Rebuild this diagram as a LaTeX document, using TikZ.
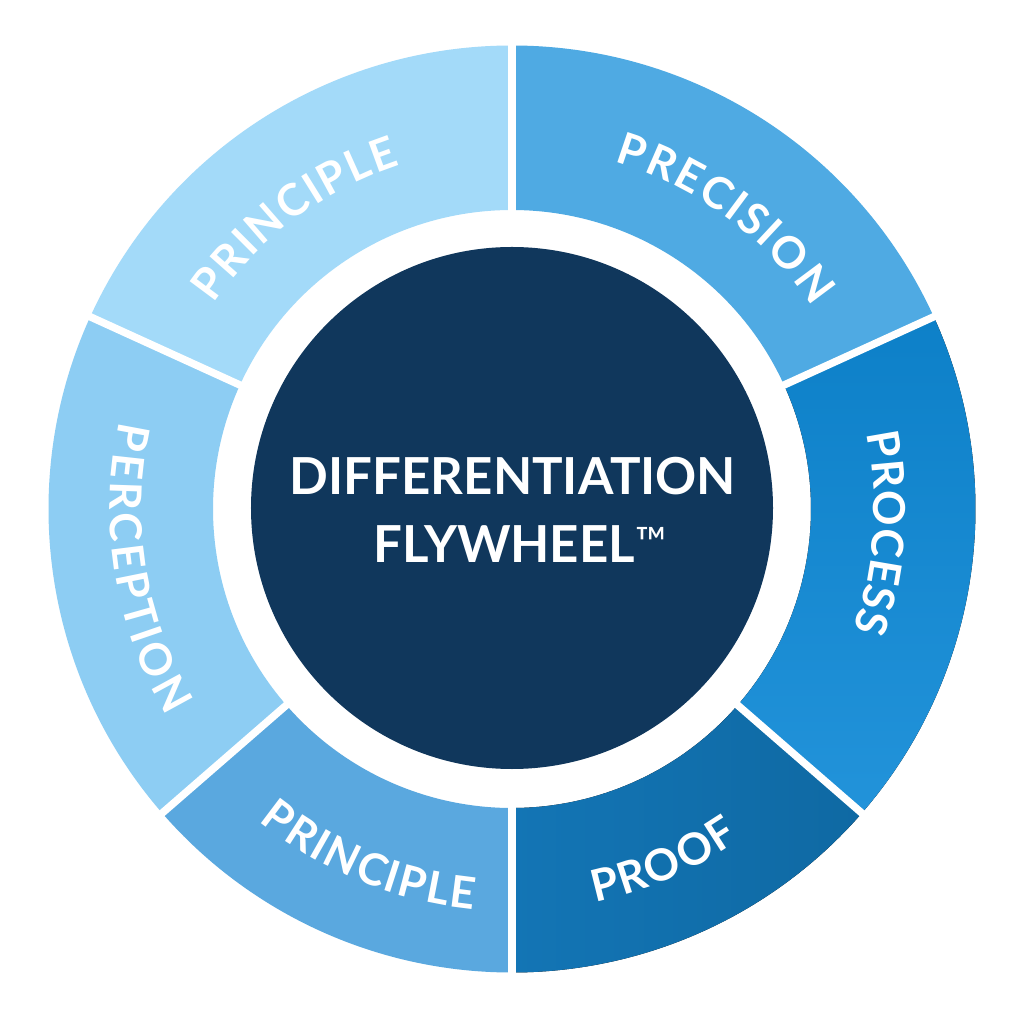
\documentclass[tikz,border=0pt]{standalone}
\usepackage{fontspec}
\setmainfont{Lato}
\usetikzlibrary{decorations.text,calc}
\definecolor{hub}{HTML}{10375C}
\definecolor{sA}{HTML}{A3DAF9}
\definecolor{sB}{HTML}{4FAAE3}
\definecolor{sCa}{HTML}{0D80C8}
\definecolor{sCb}{HTML}{2293DA}
\definecolor{sDa}{HTML}{0F69A3}
\definecolor{sDb}{HTML}{1375B5}
\definecolor{sE}{HTML}{5AA8DF}
\definecolor{sF}{HTML}{8DCDF3}
\newcommand{\seg}[3]{% start, end, fill options
  \fill[#3] (#1:463.5) arc[start angle=#1,end angle=#2,radius=463.5] -- (#2:299) arc[start angle=#2,end angle=#1,radius=299] -- cycle;}
\newcommand{\ringlabel}[4]{% start angle, end angle, radius, text
  \path[decorate,decoration={text effects along path,text={#4},
     text effects/.cd,text along path,fit text to path,
     characters={text=white,font=\fontsize{44}{44}\bfseries\selectfont}}]
     (#1:#3) arc[start angle=#1,end angle=#2,radius=#3];}
\begin{document}
\begin{tikzpicture}[x=1pt,y=1pt]
\useasboundingbox (-512,-515) rectangle (512,509);
\fill[white] (-512,-515) rectangle (512,509);
\seg{90}{155.5}{sA}
\seg{24.5}{90}{sB}
\seg{-41}{24.5}{top color=sCa,bottom color=sCb}
\seg{-90}{-41}{left color=sDb,right color=sDa}
\seg{-139}{-90}{sE}
\seg{155.5}{221}{sF}
\draw[white,line width=8pt] (90:290) -- (90:480);
\draw[white,line width=8pt] (-90:290) -- (-90:480);
\draw[white,line width=7.5pt] (24.5:290) -- (24.5:480);
\draw[white,line width=7.5pt] (-41:290) -- (-41:480);
\draw[white,line width=7.5pt] (221:290) -- (221:480);
\draw[white,line width=7.5pt] (155.5:290) -- (155.5:480);
\fill[hub] (0,1) circle[radius=261];
\node[text=white,align=center,font=\fontsize{51}{68}\bfseries\selectfont] (title) at (1,-1) {DIFFERENTIATION\\\hspace*{14pt}FLYWHEEL{\fontsize{42}{42}\mdseries\selectfont\raisebox{5.5pt}{™}}};
\ringlabel{145.5}{108}{362}{PRINCIPLE}
\ringlabel{73.5}{34}{362}{PRECISION}
\ringlabel{12}{-19.5}{362}{PROCESS}
\ringlabel{-78}{-55.5}{402}{PROOF}
\ringlabel{-129}{-95.5}{402}{PRINCIPLE}
\ringlabel{167.5}{211}{402}{PERCEPTION}
\end{tikzpicture}
\end{document}
